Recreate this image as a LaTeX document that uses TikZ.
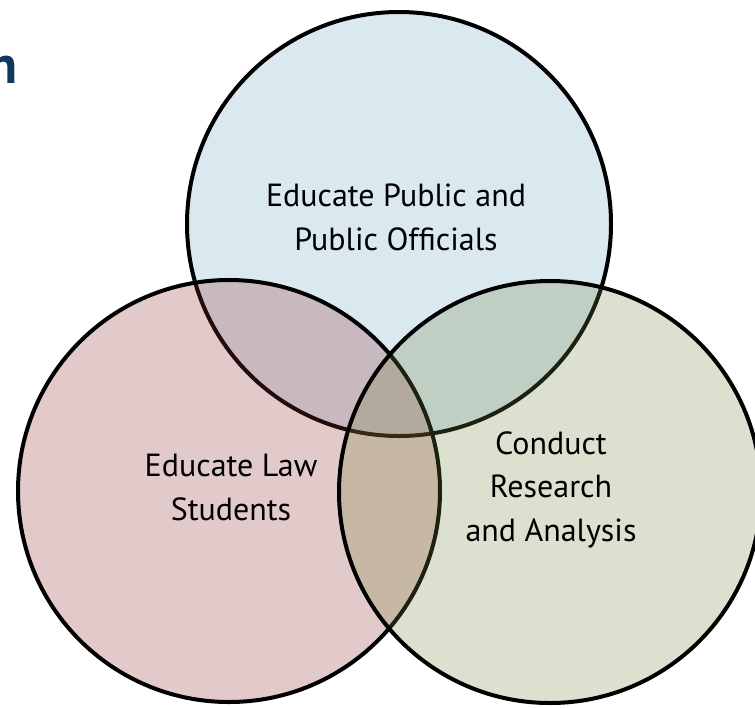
\documentclass[tikz,border=0pt]{standalone}
\usepackage{fontspec}
\setmainfont{PT Sans}
\usepackage{tikz}

\definecolor{pubblue}{RGB}{108,164,196}
\definecolor{lawred}{RGB}{144,44,44}
\definecolor{resgreen}{RGB}{116,132,60}
\definecolor{titlenavy}{RGB}{14,56,96}

\begin{document}
\begin{tikzpicture}[x=0.75pt,y=0.75pt,yscale=-1,xscale=1,
    ring/.style={draw=black,line width=3pt,fill opacity=0.25},
    label/.style={anchor=base,inner sep=0.75pt,align=center,font=\fontsize{24}{32.5}\selectfont}]
    \path[use as bounding box] (0,0) rectangle (755,707); %set diagram size 755 x 707
    \clip (0,0) rectangle (755,707);

    %Shape: Circle [public]
    \draw [ring,fill=pubblue] (399,224) circle [radius=212];
    %Shape: Circle [law]
    \draw [ring,fill=lawred] (229,491) circle [radius=211];
    %Shape: Circle [research]
    \draw [ring,fill=resgreen] (550,492) circle [radius=211];

    % Text Node (base = last line)
    \node (pubtxt) [label] at (396,250) {Educate Public and\\Public Officials};
    % Text Node
    \node (lawtxt) [label] at (231,520) {Educate Law\\Students};
    % Text Node
    \node (restxt) [label] at (551,541) {Conduct\\Research\\and Analysis};
    % Text Node
    \node (titlen) [anchor=base east,inner sep=0pt,text=titlenavy,font=\fontsize{40}{48}\selectfont\bfseries] at (18,83) {n};

\end{tikzpicture}
\end{document}
